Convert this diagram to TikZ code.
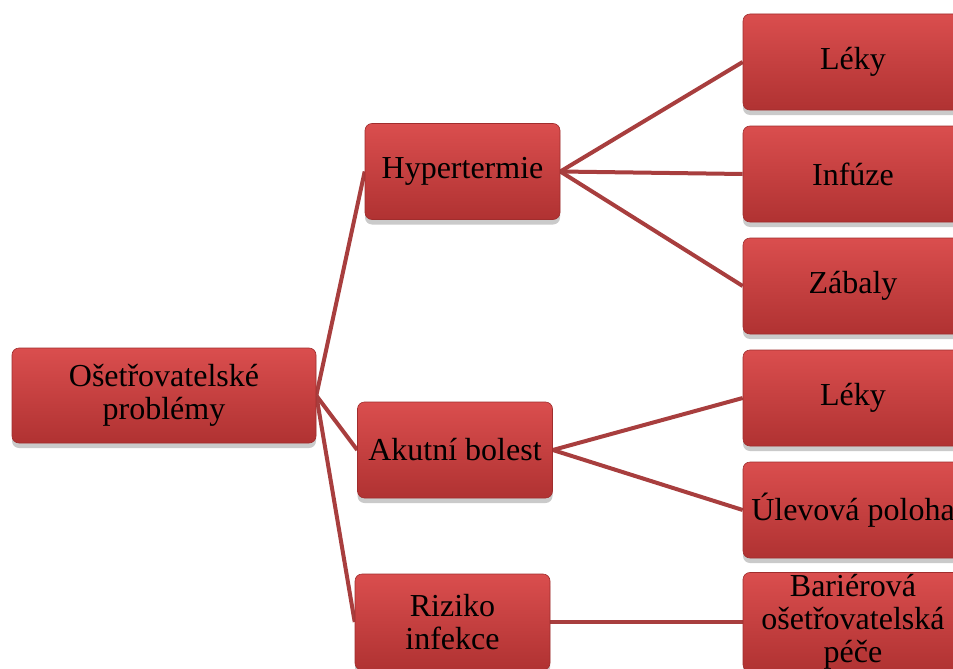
\documentclass[tikz,border=0pt]{standalone}
\usepackage{fontspec}
\setmainfont{Liberation Serif}
\usetikzlibrary{shadows,backgrounds}
\definecolor{boxtop}{RGB}{218,78,78}
\definecolor{boxbot}{RGB}{176,50,50}
\definecolor{boxedge}{RGB}{160,45,45}
\definecolor{linkcol}{RGB}{168,62,62}
\tikzset{
  box/.style={rectangle, rounded corners=7pt, top color=boxtop, bottom color=boxbot,
    draw=boxedge, line width=0.6pt, align=center, inner sep=2pt,
    font=\fontsize{32}{33}\selectfont,
    drop shadow={shadow xshift=0pt, shadow yshift=-5pt, opacity=0.35, fill=black!60}},
  rootbox/.style={box, minimum width=304pt, minimum height=95pt},
  midbox/.style={box, minimum width=195pt, minimum height=96pt},
  leafbox/.style={box, minimum width=220pt, minimum height=96pt},
  link/.style={draw=linkcol, line width=4pt}
}
\begin{document}
\begin{tikzpicture}[x=1pt, y=-1pt]
  \useasboundingbox (0,0) rectangle (953,669);
  \clip (0,0) rectangle (953,669);

  \node[rootbox] (root) at (164,395.5) {Ošetřovatelské\\problémy};

  \node[midbox] (hyp) at (462.5,171.5) {Hypertermie};
  \node[midbox] (pain) at (455,450) {Akutní bolest};
  \node[midbox] (inf) at (452.5,622) {Riziko\\infekce};

  \node[leafbox] (l1) at (853,62) {Léky};
  \node[leafbox] (l2) at (853,174) {Infúze};
  \node[leafbox] (l3) at (853,286) {Zábaly};
  \node[leafbox] (l4) at (853,398) {Léky};
  \node[leafbox] (l5) at (853,510) {Úlevová poloha};
  \node[leafbox] (l6) at (853,622) {Bariérová\\ošetřovatelská\\péče};

  \begin{pgfonlayer}{background}
    \draw[link] (root.east) -- (hyp.west);
    \draw[link] (root.east) -- (pain.west);
    \draw[link] (root.east) -- (inf.west);
    \draw[link] (hyp.east) -- (l1.west);
    \draw[link] (hyp.east) -- (l2.west);
    \draw[link] (hyp.east) -- (l3.west);
    \draw[link] (pain.east) -- (l4.west);
    \draw[link] (pain.east) -- (l5.west);
    \draw[link] (inf.east) -- (l6.west);
  \end{pgfonlayer}
\end{tikzpicture}
\end{document}
